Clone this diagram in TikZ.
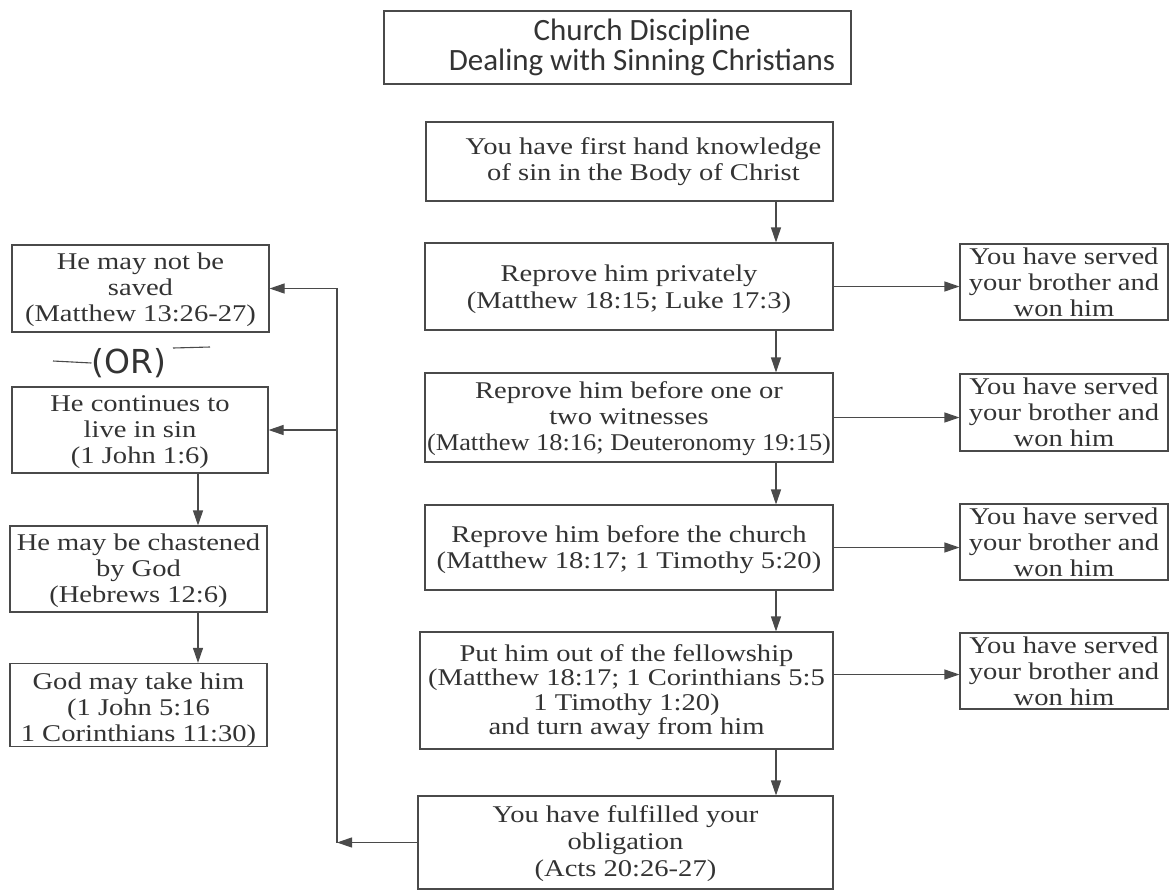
\documentclass[tikz,border=0pt]{standalone}
\usepackage{fontspec}
\setmainfont{Liberation Serif}[FakeStretch=1.19]
\newfontfamily\narrowserif{Liberation Serif}[FakeStretch=1.1]
\newfontfamily\titlefont{Carlito}
\newfontfamily\handfont{DejaVu Sans}
\usetikzlibrary{arrows.meta,calc}
\definecolor{ink}{HTML}{333333}
\definecolor{rule}{HTML}{4A4A4A}
\begin{document}
\begin{tikzpicture}[x=1pt,y=-1pt,
  box/.style={draw=rule, line width=1.1pt, inner sep=0pt, align=center, text=ink,
    font=\fontsize{24}{26}\selectfont},
  arr/.style={draw=rule, line width=1.1pt, -{Triangle[length=15pt,width=10pt]}},
  ln/.style={draw=rule, line width=1.1pt}]
\useasboundingbox[fill=white] (0,0) rectangle (1170,892);

\node[box, minimum width=467, minimum height=73, font=\titlefont\fontsize{31}{30}\selectfont]
  (title) at (617.5,47.5) {\hspace*{49pt}Church Discipline\\\hspace*{49pt}Dealing with Sinning Christians};

\node[box, minimum width=407, minimum height=79] (A) at (629.5,161.5)
  {\hspace*{28pt}You have first hand knowledge\\\hspace*{28pt}of sin in the Body of Christ};
\node[box, minimum width=408, minimum height=87, font=\fontsize{24}{27}\selectfont] (B) at (629,286.5)
  {\rule{0pt}{22pt}Reprove him privately\\(Matthew 18:15; Luke 17:3)};
\node[box, minimum width=408, minimum height=89] (C) at (629,417.5)
  {\rule{0pt}{20pt}Reprove him before one or\\two witnesses\\{\narrowserif(Matthew 18:16; Deuteronomy 19:15)}};
\node[box, minimum width=408, minimum height=85, font=\fontsize{24}{26}\selectfont] (D) at (629,547.5)
  {\rule{0pt}{22pt}Reprove him before the church\\(Matthew 18:17; 1 Timothy 5:20)};
\node[box, minimum width=413, minimum height=117, font=\fontsize{24}{24.5}\selectfont] (E) at (626.5,690.5)
  {\rule{0pt}{20pt}Put him out of the fellowship\\(Matthew 18:17; 1 Corinthians 5:5\\1 Timothy 1:20)\\and turn away from him};
\node[box, minimum width=415, minimum height=93, font=\fontsize{24}{27}\selectfont] (F) at (625.5,842.5)
  {\rule{0pt}{20pt}You have fulfilled your\\obligation\\(Acts 20:26-27)};

\node[box, minimum width=208, minimum height=76] (R1) at (1064,282) {You have served\\your brother and\\won him};
\node[box, minimum width=208, minimum height=77] (R2) at (1064,412.5) {You have served\\your brother and\\won him};
\node[box, minimum width=208, minimum height=76] (R3) at (1064,542) {You have served\\your brother and\\won him};
\node[box, minimum width=208, minimum height=76] (R4) at (1064,671) {You have served\\your brother and\\won him};

\node[box, minimum width=257, minimum height=87] (L1) at (140.5,288.5) {\rule{0pt}{20pt}He may not be\\saved\\(Matthew 13:26-27)};
\node[box, minimum width=256, minimum height=86] (L2) at (140,430) {\rule{0pt}{20pt}He continues to\\live in sin\\(1 John 1:6)};
\node[box, minimum width=257, minimum height=86] (L3) at (138.5,569) {\rule{0pt}{20pt}He may be chastened\\by God\\(Hebrews 12:6)};
\node[box, minimum width=257, minimum height=82] (L4) at (138.5,705) {\rule{0pt}{26pt}God may take him\\(1 John 5:16\\1 Corinthians 11:30)};

% handwritten (OR)
\node[text=ink, font=\handfont\fontsize{33}{33}\selectfont, inner sep=0pt] (orlabel) at (129,363) {(OR)};
\draw[ln] (53,361) -- (orlabel.west);
\draw[ln] (173,348) -- (210,347);

% main spine
\coordinate (spine) at (776,0);
\draw[arr] (A.south -| spine) -- (B.north -| spine);
\draw[arr] (B.south -| spine) -- (C.north -| spine);
\draw[arr] (C.south -| spine) -- (D.north -| spine);
\draw[arr] (D.south -| spine) -- (E.north -| spine);
\draw[arr] (E.south -| spine) -- (F.north -| spine);

% right branches
\coordinate (e4) at ($(E.east)+(0,-16)$);
\draw[arr] (B.east) -- (B.east -| R1.west);
\draw[arr] (C.east) -- (C.east -| R2.west);
\draw[arr] (D.east) -- (D.east -| R3.west);
\draw[arr] (e4) -- (e4 -| R4.west);

% left bus
\coordinate (bus) at (337,0);
\draw[arr] (F.west) -- (F.west -| bus);
\draw[arr] (F.west -| bus) -- (L1.east -| bus) -- (L1.east);
\draw[arr] (L2.east -| bus) -- (L2.east);

% left column chain
\coordinate (lspine) at (198,0);
\draw[arr] (L2.south -| lspine) -- (L3.north -| lspine);
\draw[arr] (L3.south -| lspine) -- (L4.north -| lspine);
\end{tikzpicture}
\end{document}
